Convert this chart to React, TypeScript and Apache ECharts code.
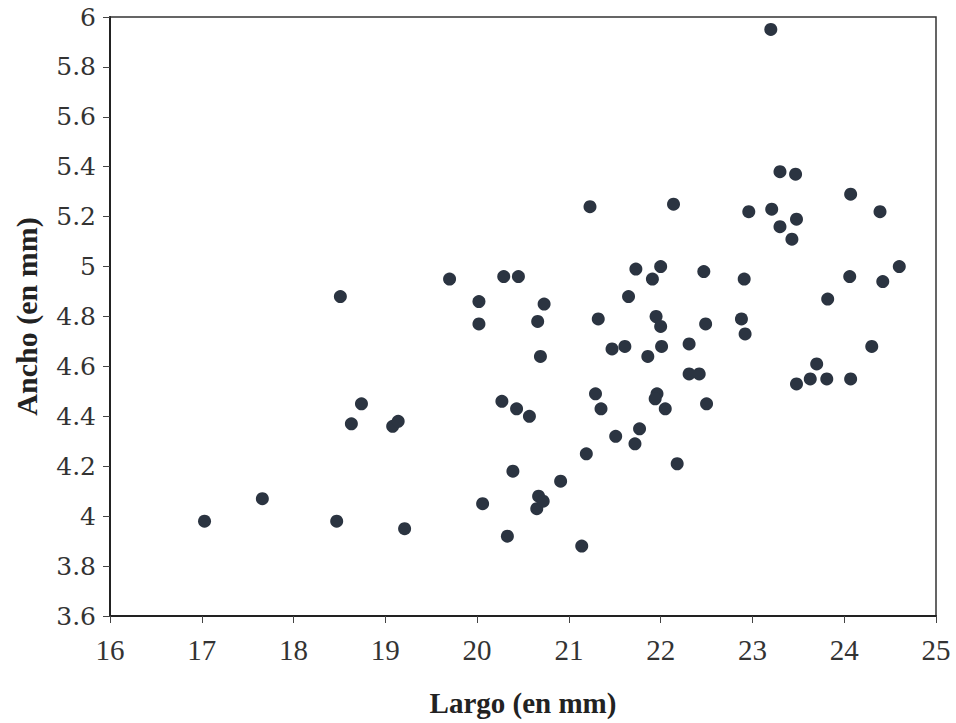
import React, { useEffect, useRef } from "react";
import * as echarts from "echarts";

const largo: number[] = [
  17.03, 17.66, 18.47, 18.51, 18.63, 18.74, 19.08, 19.14, 19.21, 19.7,
  20.02, 20.02, 20.06, 20.27, 20.29, 20.33, 20.39, 20.43, 20.45, 20.57,
  20.66, 20.67, 20.65, 20.72, 20.69, 20.73, 20.91, 21.14, 21.19, 21.23,
  21.29, 21.32, 21.35, 21.47, 21.51, 21.61, 21.65, 21.72, 21.73, 21.77,
  21.86, 21.91, 21.95, 21.96, 21.94, 22.0, 22.0, 22.01, 22.05, 22.14,
  22.18, 22.31, 22.31, 22.42, 22.47, 22.49, 22.5, 22.88, 22.92, 22.91,
  22.96, 23.2, 23.21, 23.3, 23.3, 23.43, 23.47, 23.48, 23.48, 23.63,
  23.7, 23.81, 23.82, 24.07, 24.06, 24.07, 24.3, 24.39, 24.42, 24.6,
];
const ancho: number[] = [
  3.98, 4.07, 3.98, 4.88, 4.37, 4.45, 4.36, 4.38, 3.95, 4.95,
  4.86, 4.77, 4.05, 4.46, 4.96, 3.92, 4.18, 4.43, 4.96, 4.4,
  4.78, 4.08, 4.03, 4.06, 4.64, 4.85, 4.14, 3.88, 4.25, 5.24,
  4.49, 4.79, 4.43, 4.67, 4.32, 4.68, 4.88, 4.29, 4.99, 4.35,
  4.64, 4.95, 4.8, 4.49, 4.47, 5.0, 4.76, 4.68, 4.43, 5.25,
  4.21, 4.69, 4.57, 4.57, 4.98, 4.77, 4.45, 4.79, 4.73, 4.95,
  5.22, 5.95, 5.23, 5.38, 5.16, 5.11, 5.37, 5.19, 4.53, 4.55,
  4.61, 4.55, 4.87, 5.29, 4.96, 4.55, 4.68, 5.22, 4.94, 5.0,
];

const xTitle = "Largo (en mm)";
const yTitle = "Ancho (en mm)";

export default function App() {
  const ref = useRef<HTMLDivElement>(null);
  useEffect(() => {
    if (!ref.current) return;
    const chart = echarts.init(ref.current, undefined, { renderer: "svg" });
    const serif = "Liberation Serif";
    chart.setOption({
      animation: false,
      backgroundColor: "#fff",
      grid: {
        left: 110,
        right: 20,
        top: 17,
        bottom: 107,
        show: true,
        borderColor: "#333",
        borderWidth: 1.5,
      },
      xAxis: {
        type: "value",
        min: 16,
        max: 25,
        interval: 1,
        name: xTitle,
        nameLocation: "middle",
        nameGap: 72,
        nameTextStyle: { fontFamily: serif, fontWeight: "bold", fontSize: 29, color: "#222" },
        axisLine: { show: true, lineStyle: { color: "#222", width: 2 } },
        axisTick: { show: true, inside: false, length: 7, lineStyle: { color: "#444" } },
        axisLabel: { fontFamily: serif, fontSize: 29, color: "#333", margin: 19 },
        splitLine: { show: false },
      },
      yAxis: {
        type: "value",
        min: 3.6,
        max: 6,
        interval: 0.2,
        name: yTitle,
        nameLocation: "middle",
        nameGap: 69,
        nameRotate: 90,
        nameTextStyle: { fontFamily: serif, fontWeight: "bold", fontSize: 30, color: "#222" },
        axisLine: { show: true, lineStyle: { color: "#222", width: 2 } },
        axisTick: { show: true, inside: false, length: 7, lineStyle: { color: "#444" } },
        axisLabel: {
          fontFamily: "DejaVu Serif",
          fontSize: 25,
          color: "#333",
          margin: 14,
          formatter: (v: number) => String(Math.round(v * 10) / 10),
        },
        splitLine: { show: false },
      },
      series: [
        {
          type: "scatter",
          data: largo.map((x, i) => [x, ancho[i]]),
          symbol: "circle",
          symbolSize: 13,
          itemStyle: { color: "#2b3441", opacity: 1 },
        },
      ],
    });
    return () => chart.dispose();
  }, []);
  return (
    <div
      ref={ref}
      style={{ position: "fixed", left: 0, top: 0, width: 956, height: 723 }}
    />
  );
}
